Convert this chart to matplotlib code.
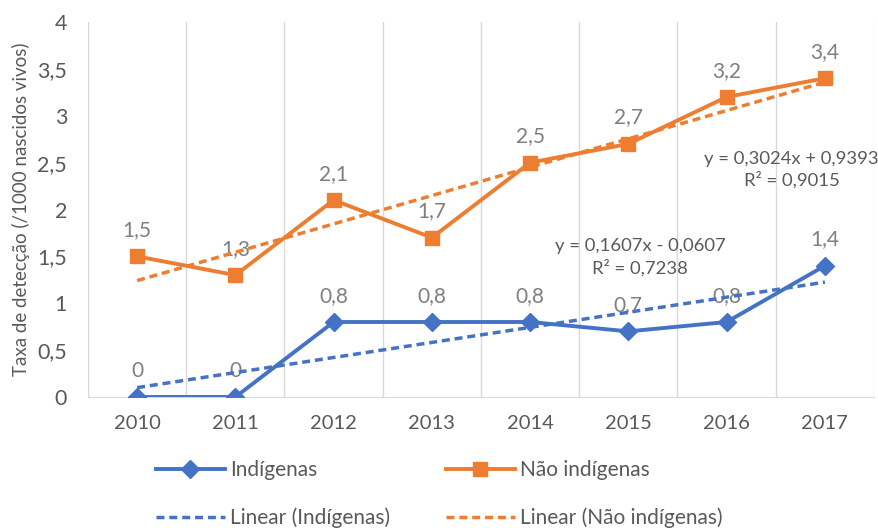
import numpy as np
import matplotlib
matplotlib.use("Agg")
import matplotlib.pyplot as plt
from matplotlib.ticker import FuncFormatter, FixedLocator

plt.rcParams['font.family'] = ['Lato', 'DejaVu Sans']

# Dados
anos = ['2010', '2011', '2012', '2013', '2014', '2015', '2016', '2017']
indigenas = [0, 0, 0.8, 0.8, 0.8, 0.7, 0.8, 1.4]
nao_indigenas = [1.5, 1.3, 2.1, 1.7, 2.5, 2.7, 3.2, 3.4]

AZUL = '#4472C4'
LARANJA = '#ED7D31'
CINZA = '#595959'


def virgula(v, casas=None):
    if casas is None:
        s = f"{v:g}"
    else:
        s = f"{v:.{casas}f}"
    return s.replace('.', ',')


def tendencia(y):
    # linha de tendência linear como no Excel (x = 1..n)
    x = np.arange(1, len(y) + 1)
    a, b = np.polyfit(x, y, 1)
    yhat = a * x + b
    r2 = 1 - np.sum((np.array(y) - yhat) ** 2) / np.sum((np.array(y) - np.mean(y)) ** 2)
    return yhat, a, b, r2


fig = plt.figure(figsize=(8.79, 5.28), dpi=100)
ax = fig.add_axes([88 / 879, 1 - 397 / 528, (874 - 88) / 879, (397 - 22) / 528])

pos = np.arange(len(anos))

l1, = ax.plot(pos, indigenas, color=AZUL, lw=2.8, marker='D', ms=9, zorder=3, label='Indígenas')
l2, = ax.plot(pos, nao_indigenas, color=LARANJA, lw=2.8, marker='s', ms=10, zorder=3, label='Não indígenas')

t1, a1, b1, r1 = tendencia(indigenas)
t2, a2, b2, r2 = tendencia(nao_indigenas)
l3, = ax.plot(pos, t1, color=AZUL, lw=2.5, ls=(0, (2.3, 1.4)), zorder=4, label='Linear (Indígenas)')
l4, = ax.plot(pos, t2, color=LARANJA, lw=2.5, ls=(0, (2.3, 1.4)), zorder=4, label='Linear (Não indígenas)')

# rótulos de dados
for serie in (indigenas, nao_indigenas):
    for i, v in enumerate(serie):
        ax.annotate(virgula(v), (i, v), xytext=(0, 19), textcoords='offset points',
                    ha='center', va='center', fontsize=15, color='#7F7F7F')

# equações
sinal = lambda b: f"+ {virgula(b, 4)}" if b >= 0 else f"- {virgula(-b, 4)}"
ax.text(6.66, 2.42, f"y = {virgula(a2, 4)}x {sinal(b2)}\nR² = {virgula(r2, 4)}",
        ha='center', va='center', fontsize=13.3, color=CINZA, linespacing=1.3)
ax.text(5.12, 1.49, f"y = {virgula(a1, 4)}x {sinal(b1)}\nR² = {virgula(r1, 4)}",
        ha='center', va='center', fontsize=13.3, color=CINZA, linespacing=1.3)

ax.set_xlim(-0.5, len(anos) - 0.5)
ax.set_ylim(0, 4)
ax.set_xticks(pos)
ax.set_xticklabels(anos)
ax.xaxis.set_minor_locator(FixedLocator(np.arange(-0.5, len(anos), 1)))
ax.set_yticks(np.arange(0, 4.01, 0.5))
ax.yaxis.set_major_formatter(FuncFormatter(lambda v, p: virgula(v)))
ax.tick_params(axis='x', which='both', length=0, pad=13, labelsize=14.5, labelcolor=CINZA)
ax.tick_params(axis='y', length=0, pad=15, labelsize=15.5, labelcolor=CINZA)
ax.grid(axis='x', which='minor', color='#D9D9D9', lw=1)
for s in ('top', 'right', 'left'):
    ax.spines[s].set_visible(False)
ax.spines['bottom'].set_color('#D9D9D9')
ax.set_ylabel('Taxa de detecção (/1000 nascidos vivos)', fontsize=13.5, color=CINZA, labelpad=5)

fig.legend(handles=[l1, l3, l2, l4], ncol=2, loc='center left',
           bbox_to_anchor=(137 / 879, 1 - 494 / 528), frameon=False,
           fontsize=15, labelcolor=CINZA, handlelength=3.3, handletextpad=0.25,
           columnspacing=2.7, labelspacing=1.3)

fig.savefig('out.png', dpi=100)
